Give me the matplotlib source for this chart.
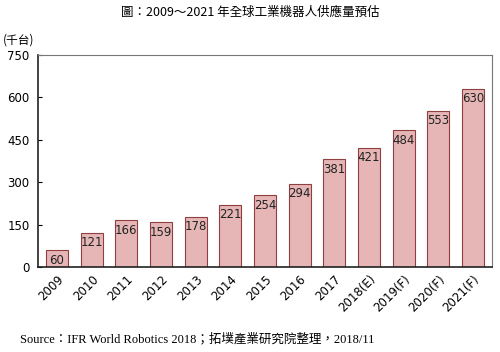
import numpy as np
import matplotlib.pyplot as plt

# supply of industrial robots, thousands of units
years = ['2009', '2010', '2011', '2012', '2013', '2014', '2015', '2016',
         '2017', '2018(E)', '2019(F)', '2020(F)', '2021(F)']
units = [60, 121, 166, 159, 178, 221, 254, 294, 381, 421, 484, 553, 630]
yticks = [0, 150, 300, 450, 600, 750]

cjk = ['Noto Sans CJK TC', 'DejaVu Sans']
plt.rcParams['font.family'] = cjk

fig = plt.figure(figsize=(5, 3.52), dpi=100)
ax = fig.add_axes([0.076, 0.241, 0.908, 0.603])

x = np.arange(len(years))
ax.bar(x, units, width=0.63, color='#e6b6b6', edgecolor='#8f3f3f', linewidth=0.8)

for xi, v in zip(x, units):
    ax.text(xi, v - 12, str(v), ha='center', va='top', fontsize=8.5,
            family='DejaVu Sans', color='#222222')

ax.set_xlim(-0.55, len(years) - 0.45)
ax.set_ylim(0, 750)
ax.set_yticks(yticks)
ax.set_yticklabels([str(t) for t in yticks], fontsize=8.5, family='DejaVu Sans')
ax.set_xticks(x)
ax.set_xticklabels(years, rotation=45, ha='right', rotation_mode='anchor',
                   fontsize=8.5, family='DejaVu Sans')
ax.tick_params(axis='y', direction='in', length=3, pad=6)
ax.tick_params(axis='x', length=0, pad=4)
for s in ax.spines.values():
    s.set_color('#777777')
    s.set_linewidth(0.8)
ax.spines['left'].set_color('#222222')
ax.spines['bottom'].set_color('#222222')
ax.spines['left'].set_linewidth(1.2)
ax.spines['bottom'].set_linewidth(1.2)

fig.text(0.5, 0.965, '圖：2009～2021 年全球工業機器人供應量預估', ha='center', va='center',
         fontsize=9, family=cjk)
fig.text(0.006, 0.885, '(千台)', ha='left', va='center', fontsize=8.5, family=cjk)
fig.text(0.04, 0.037, 'Source：IFR World Robotics 2018；拓墣產業研究院整理，2018/11',
         ha='left', va='center', fontsize=9,
         family=['Liberation Serif', 'Noto Sans CJK TC'])

fig.savefig('out.png', dpi=100)
